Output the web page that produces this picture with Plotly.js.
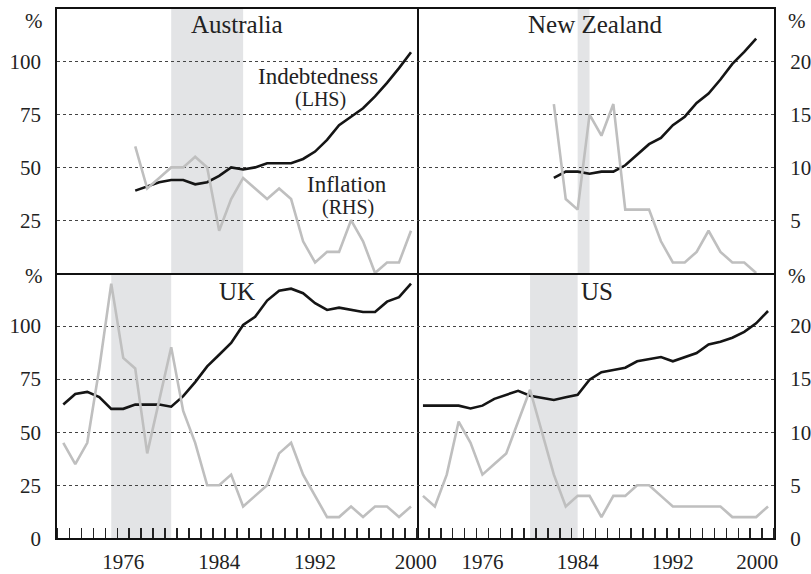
<!DOCTYPE html>
<html>
<head>
<meta charset="utf-8">
<script src="https://cdn.plot.ly/plotly-3.0.1.min.js"></script>
<style>html,body{margin:0;padding:0;background:#fff;}#chart{width:811px;height:574px;}</style>
</head>
<body>
<div id="chart"></div>
<script>
// ---- data ----
const yearsAll = [1971,1972,1973,1974,1975,1976,1977,1978,1979,1980,1981,1982,1983,1984,1985,1986,1987,1988,1989,1990,1991,1992,1993,1994,1995,1996,1997,1998,1999,2000];
const ausYears = [1977,1978,1979,1980,1981,1982,1983,1984,1985,1986,1987,1988,1989,1990,1991,1992,1993,1994,1995,1996,1997,1998,1999,2000];
const nzYears  = [1982,1983,1984,1985,1986,1987,1988,1989,1990,1991,1992,1993,1994,1995,1996,1997,1998,1999];

const ausDebt = [39,41,43,44,44,42,43,46,50,49,50,52,52,52,54,57.5,63,70,74,78,83.6,90,97,104.5];
const ausInfl = [12,8,9,10,10,11,10,4,7,9,8,7,8,7,3,1,2,2,5,3,0,1,1,4];

const nzDebt = [45,48,48,47,48,48,51,56,61,64,70,74,80.5,85,91.6,99,104.7,111];
const nzInfl = [16,7,6,15,13,16,6,6,6,3,1,1,2,4,2,1,1,0];

const ukDebt = [63,68,69,66.5,61,61,63,63,63,62,67,73.6,81,86.5,92,100.5,104.4,112,116.6,117.6,115.5,110.8,107.6,108.7,107.6,106.6,106.6,111.5,113.6,120];
const ukInfl = [9,7,9,16,24,17,16,8,13,18,12,9,5,5,6,3,4,5,8,9,6,4,2,2,3,2,3,3,2,3];

const usDebt = [62.5,62.5,62.5,62.5,61.2,62.5,65.7,67.6,69.5,67.2,66.1,65.2,66.5,67.6,74.7,78.3,79.3,80.4,83.4,84.3,85.4,83.4,85.4,87.3,91.3,92.6,94.5,97.3,101.3,107.1];
const usInfl = [4,3,6,11,9,6,7,8,11,14,10,6,3,4,4,2,4,4,5,5,4,3,3,3,3,3,2,2,2,3];

// shaded periods (start, end)
const ausShade = [1980,1986];
const nzShade  = [1984,1985];
const ukShade  = [1975,1980];
const usShade  = [1980,1984];

const panelNames = ['Australia','New Zealand','UK','US'];
const lhsTicks = [25,50,75,100];
const lhsTicksBottom = [0,25,50,75,100];
const rhsTicks = [5,10,15,20];
const rhsTicksBottom = [0,5,10,15,20];
const xLabels = ['1976','1984','1992','2000'];
const xLabelPosLeft = [1976,1984,1992,2000.4];
const xLabelPosRight = [1976,1984,1992,1999.1];

// ---- layout helpers ----
const W = 811, H = 574;
const px = v => v / W;
const py = v => 1 - v / H;
const xL = [px(57.3), px(417)], xR = [px(417), px(774)];
const yT = [py(273), py(9)], yB = [py(538.3), py(273)];

const FONT = 'Liberation Serif, Times New Roman, serif';
const BLACK = '#151515', GREY = '#bfbfbf', SHADE = '#e3e4e6';
const LINEC = '#111', LINEW = 2;

function debtTrace(x, y, xa, ya) {
  return {x: x, y: y, xaxis: xa, yaxis: ya, type: 'scatter', mode: 'lines',
          line: {color: BLACK, width: 2.6}, hoverinfo: 'skip'};
}
function inflTrace(x, y, xa, ya) {
  return {x: x, y: y, xaxis: xa, yaxis: ya, type: 'scatter', mode: 'lines',
          line: {color: GREY, width: 2.6}, hoverinfo: 'skip'};
}

const data = [
  inflTrace(ausYears, ausInfl, 'x', 'y2'),
  debtTrace(ausYears, ausDebt, 'x', 'y'),
  inflTrace(nzYears, nzInfl, 'x2', 'y4'),
  debtTrace(nzYears, nzDebt, 'x2', 'y3'),
  inflTrace(yearsAll, ukInfl, 'x3', 'y6'),
  debtTrace(yearsAll, ukDebt, 'x3', 'y5'),
  inflTrace(yearsAll, usInfl, 'x4', 'y8'),
  debtTrace(yearsAll, usDebt, 'x4', 'y7'),
];

const tickFont = {family: FONT, size: 21, color: '#222'};

// top panels draw top+bottom frame lines; bottom panels draw only bottom line
function xAxis(domain, anchor, bottom, labelPos) {
  const a = {domain: domain, anchor: anchor, range: [1970.5, 2000.5],
    showgrid: false, zeroline: false, fixedrange: true,
    showline: true, mirror: !bottom, linecolor: LINEC, linewidth: LINEW};
  if (bottom) {
    Object.assign(a, {tickmode: 'array', tickvals: labelPos, ticktext: xLabels,
      ticks: '', tickfont: tickFont, ticklabelstandoff: 3,
      minor: {tickmode: 'linear', tick0: 1970.5, dtick: 1, ticks: 'inside', ticklen: 10,
              tickwidth: 1.5, tickcolor: '#222', showgrid: false}});
  } else {
    Object.assign(a, {showticklabels: false, ticks: ''});
  }
  return a;
}
// left panels: LHS axis draws left+right lines; right panels: only right line (via RHS axis)
function lhsAxis(domain, anchor, leftPanel, tickvals) {
  return {domain: domain, anchor: anchor, range: [0, 125],
    tickmode: 'array', tickvals: tickvals, showticklabels: leftPanel, ticks: '',
    tickfont: tickFont, ticklabelstandoff: 10,
    showgrid: true, gridcolor: '#444', griddash: 'dot', gridwidth: 1,
    zeroline: false, fixedrange: true,
    showline: leftPanel, mirror: leftPanel, linecolor: LINEC, linewidth: LINEW};
}
function rhsAxis(overlay, anchor, rightPanel, tickvals) {
  return {overlaying: overlay, anchor: anchor, side: 'right', range: [0, 25],
    tickmode: 'array', tickvals: tickvals, showticklabels: rightPanel, ticks: '',
    tickfont: tickFont, ticklabelstandoff: 10,
    showgrid: false, zeroline: false, fixedrange: true,
    showline: rightPanel, linecolor: LINEC, linewidth: LINEW};
}

function shade(per, xa, ya) {
  return {type: 'rect', xref: xa, yref: ya + ' domain', x0: per[0], x1: per[1], y0: 0, y1: 1,
          fillcolor: SHADE, line: {width: 0}, layer: 'below'};
}

function ann(text, x, y, size, extra) {
  return Object.assign({text: text, xref: 'paper', yref: 'paper', x: px(x), y: py(y),
    xanchor: 'center', yanchor: 'middle', showarrow: false,
    font: {family: FONT, size: size, color: '#222'}}, extra || {});
}

const layout = {
  width: W, height: H,
  margin: {l: 0, r: 0, t: 0, b: 0},
  paper_bgcolor: '#fff', plot_bgcolor: 'rgba(0,0,0,0)',
  showlegend: false,
  font: {family: FONT},
  xaxis: xAxis(xL, 'y', false),
  yaxis: lhsAxis(yT, 'x', true, lhsTicks),
  yaxis2: rhsAxis('y', 'x', false, rhsTicks),
  xaxis2: xAxis(xR, 'y3', false),
  yaxis3: lhsAxis(yT, 'x2', false, lhsTicks),
  yaxis4: rhsAxis('y3', 'x2', true, rhsTicks),
  xaxis3: xAxis(xL, 'y5', true, xLabelPosLeft),
  yaxis5: lhsAxis(yB, 'x3', true, lhsTicksBottom),
  yaxis6: rhsAxis('y5', 'x3', false, rhsTicksBottom),
  xaxis4: xAxis(xR, 'y7', true, xLabelPosRight),
  yaxis7: lhsAxis(yB, 'x4', false, lhsTicksBottom),
  yaxis8: rhsAxis('y7', 'x4', true, rhsTicksBottom),
  shapes: [
    shade(ausShade, 'x', 'y'),
    shade(nzShade, 'x2', 'y3'),
    shade(ukShade, 'x3', 'y5'),
    shade(usShade, 'x4', 'y7'),
  ],
  annotations: [
    ann(panelNames[0], 237, 25, 25),
    ann(panelNames[1], 595, 25, 25),
    ann(panelNames[2], 237, 291, 25),
    ann(panelNames[3], 597, 291, 25),
    ann('Indebtedness', 318, 76, 23),
    ann('(LHS)', 320, 99, 20),
    ann('Inflation', 347, 184, 23),
    ann('(RHS)', 348, 207, 20),
    ann('%', 45, 21, 21, {xanchor: 'right'}),
    ann('%', 45, 276, 21, {xanchor: 'right'}),
    ann('%', 786, 21, 21, {xanchor: 'left'}),
    ann('%', 786, 276, 21, {xanchor: 'left'}),
  ],
};

Plotly.newPlot('chart', data, layout, {staticPlot: true, displayModeBar: false});
</script>
</body>
</html>
